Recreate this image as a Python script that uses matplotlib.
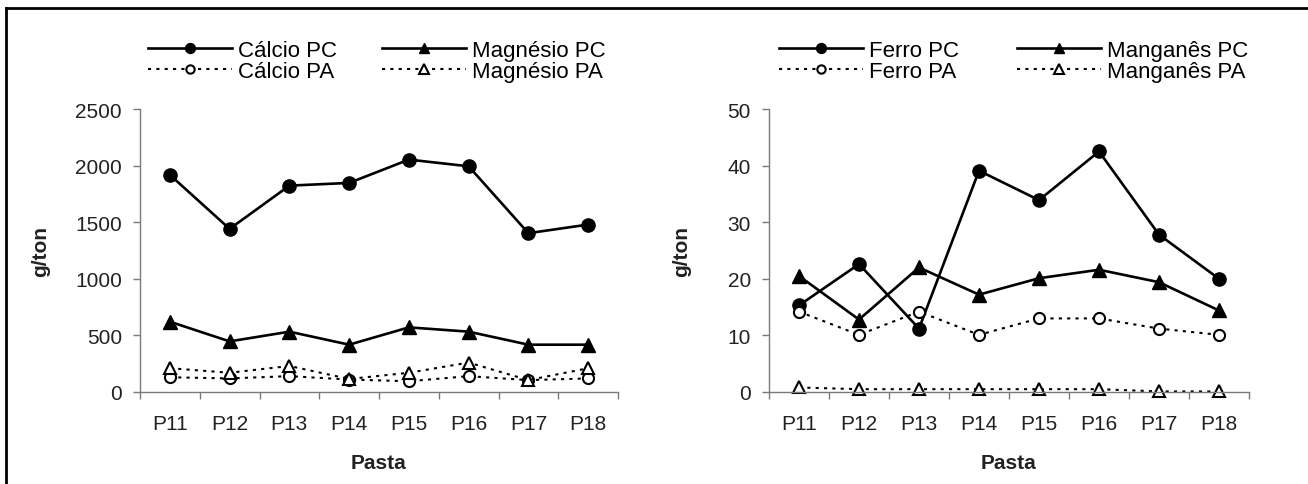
import matplotlib
matplotlib.use("Agg")
import matplotlib.pyplot as plt
from matplotlib.lines import Line2D

plt.rcParams['font.family'] = ['Liberation Sans', 'DejaVu Sans']

pastas = ["P11", "P12", "P13", "P14", "P15", "P16", "P17", "P18"]

# g/ton - left chart
calcio_pc = [1918, 1441, 1823, 1847, 2053, 1994, 1403, 1479]
calcio_pa = [130, 120, 140, 110, 95, 140, 105, 120]
magnesio_pc = [621, 447, 533, 418, 571, 533, 418, 418]
magnesio_pa = [210, 170, 230, 115, 170, 260, 105, 210]

# g/ton - right chart
ferro_pc = [15.3, 22.6, 11.2, 39.1, 33.9, 42.5, 27.8, 20.0]
ferro_pa = [14.2, 10.1, 14.2, 10.1, 13.0, 13.0, 11.2, 10.1]
manganes_pc = [20.5, 12.8, 22.0, 17.2, 20.1, 21.6, 19.4, 14.4]
manganes_pa = [0.8, 0.5, 0.5, 0.5, 0.5, 0.5, 0.1, 0.1]

W, H = 1308, 485
fig = plt.figure(figsize=(W / 100, H / 100), dpi=100)

dots = (0, (1.5, 2.5))
FS = 15
LFS = 16


def setup(ax, ymax, ystep, ylabel_x):
    x = range(len(pastas))
    ax.set_xlim(-0.5, len(pastas) - 0.5)
    ax.set_ylim(0, ymax)
    ax.set_yticks(range(0, ymax + 1, ystep))
    ax.set_xticks(list(x))
    ax.set_xticklabels(pastas)
    ax.set_xticks([i - 0.5 for i in range(len(pastas) + 1)], minor=True)
    for s in ("top", "right"):
        ax.spines[s].set_visible(False)
    for s in ("left", "bottom"):
        ax.spines[s].set_color("#7a7a7a")
        ax.spines[s].set_linewidth(1.0)
    ax.tick_params(axis="x", which="major", length=0, pad=16, labelsize=FS, colors="#222222")
    ax.tick_params(axis="x", which="minor", length=5, width=1.0, color="#7a7a7a")
    ax.tick_params(axis="y", length=5, width=1.0, color="#7a7a7a", pad=8, labelsize=FS,
                   labelcolor="#222222")
    ax.set_xlabel("Pasta", fontsize=FS, fontweight="bold", color="#222222")
    ax.xaxis.set_label_coords(0.5, -0.215)
    ax.set_ylabel("g/ton", fontsize=FS, fontweight="bold", color="#222222")
    ax.yaxis.set_label_coords(ylabel_x, 0.5)


def draw(ax, pc1, pa1, pc2, pa2, names):
    x = range(len(pastas))
    ax.plot(x, pc1, color="black", lw=1.9, marker="o", ms=9.5, mfc="black", mec="black",
            label=names[0], clip_on=False)
    ax.plot(x, pa1, color="black", lw=1.5, ls=dots, marker="o", ms=8, mfc="white",
            mec="black", mew=1.5, label=names[1], clip_on=False)
    ax.plot(x, pc2, color="black", lw=1.9, marker="^", ms=10, mfc="black", mec="black",
            label=names[2], clip_on=False)
    ax.plot(x, pa2, color="black", lw=1.5, ls=dots, marker="^", ms=9, mfc="white",
            mec="black", mew=1.5, label=names[3], clip_on=False)


ax1 = fig.add_axes([140 / W, 1 - 393 / H, 478 / W, 283 / H])
setup(ax1, 2500, 500, -0.188)
draw(ax1, calcio_pc, calcio_pa, magnesio_pc, magnesio_pa,
     ["Cálcio PC", "Cálcio PA", "Magnésio PC", "Magnésio PA"])

ax2 = fig.add_axes([769 / W, 1 - 393 / H, 480 / W, 283 / H])
setup(ax2, 50, 10, -0.1625)
draw(ax2, ferro_pc, ferro_pa, manganes_pc, manganes_pa,
     ["Ferro PC", "Ferro PA", "Manganês PC", "Manganês PA"])

# one legend per column, placed where the reference has them
for ax, cols in ((ax1, (148, 382)), (ax2, (779, 1017))):
    handles, labels = ax.get_legend_handles_labels()
    for k, lx in enumerate(cols):
        fig.legend(handles[2 * k:2 * k + 2], labels[2 * k:2 * k + 2], loc="upper left",
                   bbox_to_anchor=(lx / W, 1 - 41 / H), frameon=False,
                   fontsize=LFS, borderpad=0, borderaxespad=0, handlelength=3.8,
                   handletextpad=0.27, labelspacing=0.0, markerscale=0.75)

# outer frame (only left and top visible in the crop)
fig.add_artist(Line2D([6 / W, 6 / W], [0, 1 - 9 / H], transform=fig.transFigure,
                      color="black", lw=2))
fig.add_artist(Line2D([6 / W, 1], [1 - 9 / H, 1 - 9 / H], transform=fig.transFigure,
                      color="black", lw=2))

fig.savefig("out.png", dpi=100)
